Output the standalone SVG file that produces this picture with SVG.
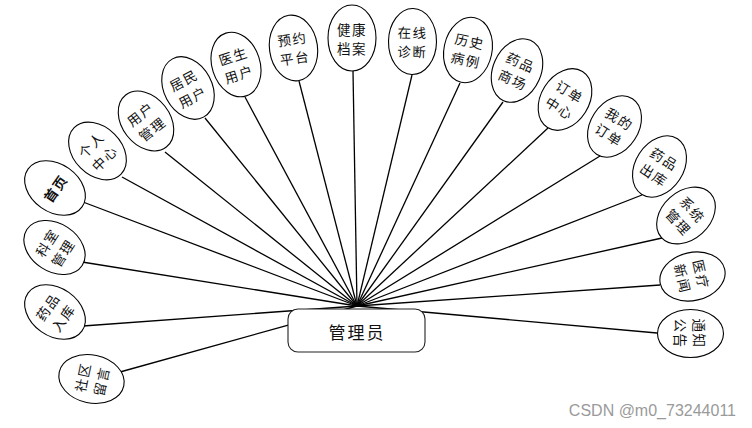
<svg xmlns="http://www.w3.org/2000/svg" width="752" height="428" viewBox="0 0 752 428">
<style>
.bg{fill:#fff}
.ln{stroke:#000;stroke-width:1.3;fill:none}
.el{fill:#fff;stroke:#000;stroke-width:1.1}
.t{font-family:"Noto Sans CJK SC","Liberation Sans",sans-serif;font-size:13.5px;fill:#111;text-anchor:middle;dominant-baseline:central;letter-spacing:1.5px}
.c{font-family:"Noto Sans CJK SC","Liberation Sans",sans-serif;font-size:17px;fill:#111;text-anchor:middle;dominant-baseline:central;letter-spacing:2px}
.wm{font-family:"Liberation Sans",Arial,sans-serif;font-size:16px;fill:#9a9a9a;text-anchor:end}
</style>
<defs>
<ellipse id="e" class="el" cx="0" cy="0" rx="24" ry="33"/>
</defs>
<rect class="bg" x="0" y="0" width="752" height="428"/>
<g id="connectors">
<line class="ln" x1="357" y1="306" x2="83" y2="202"/>
<line class="ln" x1="357" y1="306" x2="122" y2="177"/>
<line class="ln" x1="357" y1="306" x2="165" y2="152"/>
<line class="ln" x1="357" y1="306" x2="205" y2="118"/>
<line class="ln" x1="357" y1="306" x2="245" y2="97"/>
<line class="ln" x1="357" y1="306" x2="299" y2="81"/>
<line class="ln" x1="357" y1="306" x2="353" y2="71"/>
<line class="ln" x1="357" y1="306" x2="412" y2="75"/>
<line class="ln" x1="357" y1="306" x2="460" y2="83"/>
<line class="ln" x1="357" y1="306" x2="503" y2="102"/>
<line class="ln" x1="357" y1="306" x2="548" y2="128"/>
<line class="ln" x1="357" y1="306" x2="600" y2="156"/>
<line class="ln" x1="357" y1="306" x2="642" y2="195"/>
<line class="ln" x1="357" y1="306" x2="662" y2="238"/>
<line class="ln" x1="357" y1="306" x2="660" y2="285"/>
<line class="ln" x1="357" y1="306" x2="657" y2="333"/>
<line class="ln" x1="357" y1="306" x2="82" y2="262"/>
<line class="ln" x1="357" y1="306" x2="83" y2="326"/>
<line class="ln" x1="357" y1="306" x2="120" y2="372"/>
</g>
<g id="admin">
<rect x="288" y="309" width="137" height="43" rx="10" fill="#fff" stroke="#222" stroke-width="1.1"/>
<text class="c" x="357" y="331">管理员</text>
</g>
<g id="n-shouye" transform="translate(55,188) rotate(-55)"><use href="#e"/><text class="t" x="0" y="0" style="font-weight:bold">首页</text></g>
<g id="n-geren" transform="translate(97.5,151) rotate(-45)"><use href="#e"/><text class="t" x="0" y="-9.5">个人</text><text class="t" x="0" y="9.5">中心</text></g>
<g id="n-yonghu" transform="translate(146,121) rotate(-38)"><use href="#e"/><text class="t" x="0" y="-9.5">用户</text><text class="t" x="0" y="9.5">管理</text></g>
<g id="n-jumin" transform="translate(188,88) rotate(-28)"><use href="#e"/><text class="t" x="0" y="-9.5">居民</text><text class="t" x="0" y="9.5">用户</text></g>
<g id="n-yisheng" transform="translate(236,64.5) rotate(-18)"><use href="#e"/><text class="t" x="0" y="-9.5">医生</text><text class="t" x="0" y="9.5">用户</text></g>
<g id="n-yuyue" transform="translate(293.5,48) rotate(-8)"><use href="#e"/><text class="t" x="0" y="-9.5">预约</text><text class="t" x="0" y="9.5">平台</text></g>
<g id="n-jiankang" transform="translate(352,38)"><use href="#e"/><text class="t" x="0" y="-9.5">健康</text><text class="t" x="0" y="9.5">档案</text></g>
<g id="n-zaixian" transform="translate(412.5,41.5) rotate(1)"><use href="#e"/><text class="t" x="0" y="-9.5">在线</text><text class="t" x="0" y="9.5">诊断</text></g>
<g id="n-lishi" transform="translate(468,50) rotate(12)"><use href="#e"/><text class="t" x="0" y="-9.5">历史</text><text class="t" x="0" y="9.5">病例</text></g>
<g id="n-shangchang" transform="translate(517,70.5) rotate(24)"><use href="#e"/><text class="t" x="0" y="-9.5">药品</text><text class="t" x="0" y="9.5">商场</text></g>
<g id="n-dingdan" transform="translate(565,99.5) rotate(32)"><use href="#e"/><text class="t" x="0" y="-9.5">订单</text><text class="t" x="0" y="9.5">中心</text></g>
<g id="n-wode" transform="translate(614.5,126.5) rotate(33)"><use href="#e"/><text class="t" x="0" y="-9.5">我的</text><text class="t" x="0" y="9.5">订单</text></g>
<g id="n-chuku" transform="translate(659.5,166.5) rotate(33)"><use href="#e"/><text class="t" x="0" y="-9.5">药品</text><text class="t" x="0" y="9.5">出库</text></g>
<g id="n-xitong" transform="translate(686,215.5) rotate(48)"><use href="#e"/><text class="t" x="0" y="-9.5">系统</text><text class="t" x="0" y="9.5">管理</text></g>
<g id="n-xinwen" transform="translate(692.5,276.5) rotate(77)"><use href="#e"/><text class="t" x="0" y="-9.5">医疗</text><text class="t" x="0" y="9.5">新闻</text></g>
<g id="n-gonggao" transform="translate(690.5,333.5) rotate(90)"><use href="#e"/><text class="t" x="0" y="-9.5">通知</text><text class="t" x="0" y="9.5">公告</text></g>
<g id="n-keshi" transform="translate(54.5,247.5) rotate(-57)"><use href="#e"/><text class="t" x="0" y="-9.5">科室</text><text class="t" x="0" y="9.5">管理</text></g>
<g id="n-ruku" transform="translate(55,312) rotate(-55)"><use href="#e"/><text class="t" x="0" y="-9.5">药品</text><text class="t" x="0" y="9.5">入库</text></g>
<g id="n-liuyan" transform="translate(91.5,379) rotate(-78)"><use href="#e"/><text class="t" x="0" y="-9.5">社区</text><text class="t" x="0" y="9.5">留言</text></g>
<text class="wm" x="736" y="416">CSDN @m0_73244011</text>
</svg>
